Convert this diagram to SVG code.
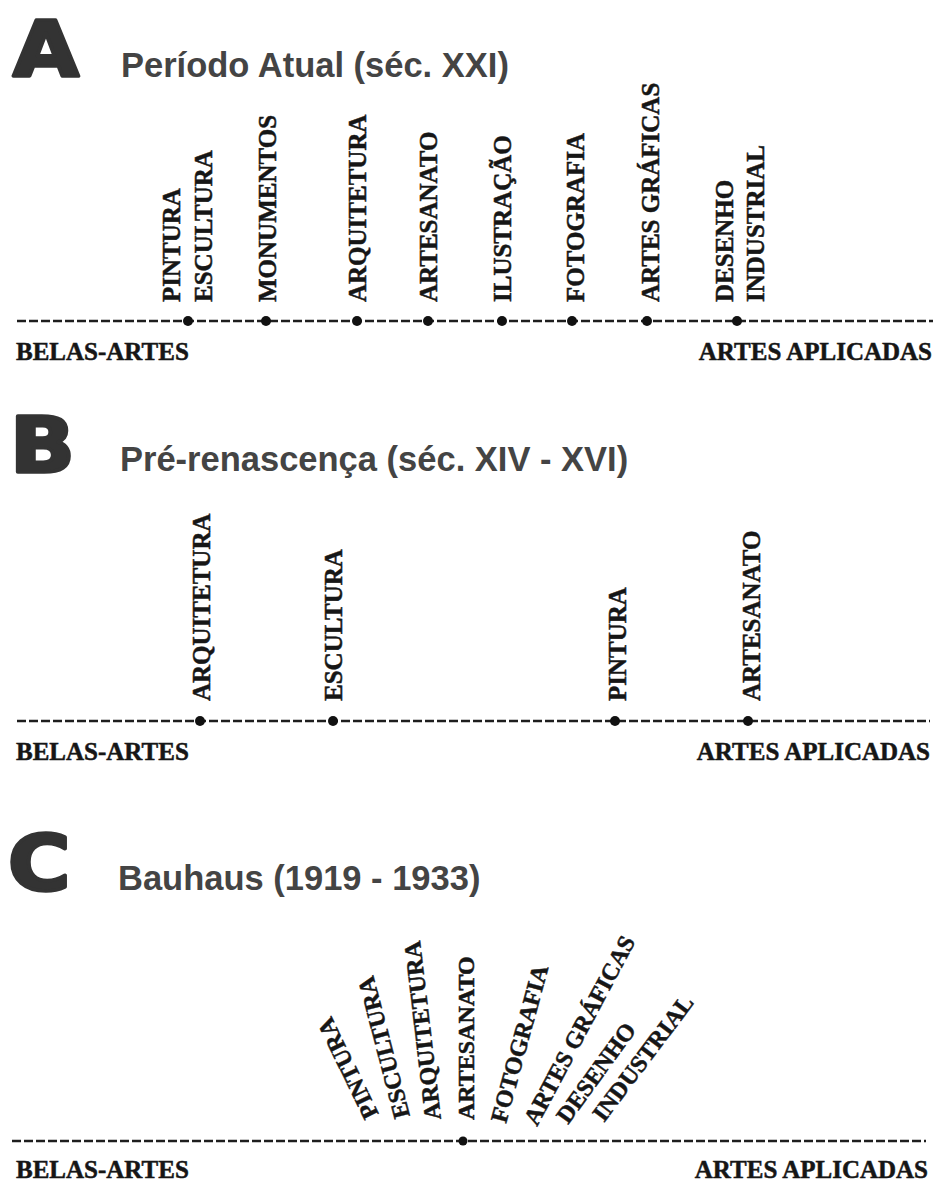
<svg xmlns="http://www.w3.org/2000/svg" width="935" height="1184" viewBox="0 0 935 1184">
<style>
.big{font-family:"DejaVu Sans",sans-serif;font-weight:bold;font-size:76px;fill:#333;stroke:#333;stroke-width:3.5;stroke-linejoin:round}
.title{font-family:"Liberation Sans",Arial,sans-serif;font-weight:bold;font-size:34.5px;fill:#444}
.lbl{font-family:"Liberation Serif","Times New Roman",serif;font-weight:bold;font-size:25px;fill:#161616;stroke:#161616;stroke-width:0.5}
.lblc{font-family:"Liberation Serif","Times New Roman",serif;font-weight:bold;font-size:24px;fill:#161616;stroke:#161616;stroke-width:0.5}
.end{text-anchor:end}
.axis{stroke:#1e1e1e;stroke-width:2.6;stroke-dasharray:9 3;fill:none}
.dot{fill:#111}
</style>
<rect width="935" height="1184" fill="#fff"/>

<!-- connectors: axes -->
<g id="connectors">
<line class="axis" x1="17" y1="321" x2="933" y2="321"/>
<line class="axis" x1="17" y1="721" x2="930" y2="721"/>
<line class="axis" x1="12" y1="1141" x2="926" y2="1141"/>
</g>

<!-- Section A -->
<g id="secA-header">
<text class="big" transform="translate(13,76) scale(1.12,1)">A</text>
<text class="title" x="121" y="77">Período Atual (séc. XXI)</text>
</g>
<g id="A-belas"><text class="lbl" x="16" y="360">BELAS-ARTES</text></g>
<g id="A-aplicadas"><text class="lbl end" x="932" y="360">ARTES APLICADAS</text></g>
<g id="A-pintura-escultura"><circle class="dot" cx="188" cy="321" r="5"/>
<text class="lbl" transform="translate(180,302) rotate(-90)">PINTURA</text>
<text class="lbl" transform="translate(212,302) rotate(-90)">ESCULTURA</text></g>
<g id="A-monumentos"><circle class="dot" cx="266" cy="321" r="5"/>
<text class="lbl" transform="translate(276,302) rotate(-90)">MONUMENTOS</text></g>
<g id="A-arquitetura"><circle class="dot" cx="357" cy="321" r="5"/>
<text class="lbl" transform="translate(366,302) rotate(-90)">ARQUITETURA</text></g>
<g id="A-artesanato"><circle class="dot" cx="428" cy="321" r="5"/>
<text class="lbl" transform="translate(437,302) rotate(-90)">ARTESANATO</text></g>
<g id="A-ilustracao"><circle class="dot" cx="502" cy="321" r="5"/>
<text class="lbl" transform="translate(511,302) rotate(-90)">ILUSTRAÇÃO</text></g>
<g id="A-fotografia"><circle class="dot" cx="572" cy="321" r="5"/>
<text class="lbl" transform="translate(584,302) rotate(-90)">FOTOGRAFIA</text></g>
<g id="A-artes-graficas"><circle class="dot" cx="647" cy="321" r="5"/>
<text class="lbl" transform="translate(659,302) rotate(-90)">ARTES GRÁFICAS</text></g>
<g id="A-desenho-industrial"><circle class="dot" cx="737" cy="321" r="5"/>
<text class="lbl" transform="translate(733,302) rotate(-90)">DESENHO</text>
<text class="lbl" transform="translate(764,302) rotate(-90)">INDUSTRIAL</text></g>

<!-- Section B -->
<g id="secB-header">
<text class="big" transform="translate(10,472) scale(1.12,1)">B</text>
<text class="title" x="120" y="471">Pré-renascença (séc. XIV - XVI)</text>
</g>
<g id="B-belas"><text class="lbl" x="16" y="760">BELAS-ARTES</text></g>
<g id="B-aplicadas"><text class="lbl end" x="930" y="760">ARTES APLICADAS</text></g>
<g id="B-arquitetura"><circle class="dot" cx="200" cy="721" r="5"/>
<text class="lbl" transform="translate(210,701) rotate(-90)">ARQUITETURA</text></g>
<g id="B-escultura"><circle class="dot" cx="333" cy="721" r="5"/>
<text class="lbl" transform="translate(342,701) rotate(-90)">ESCULTURA</text></g>
<g id="B-pintura"><circle class="dot" cx="615" cy="721" r="5"/>
<text class="lbl" transform="translate(626,701) rotate(-90)">PINTURA</text></g>
<g id="B-artesanato"><circle class="dot" cx="748" cy="721" r="5"/>
<text class="lbl" transform="translate(760,701) rotate(-90)">ARTESANATO</text></g>

<!-- Section C -->
<g id="secC-header">
<text class="big" transform="translate(8,890) scale(1.12,1)">C</text>
<text class="title" x="118" y="890">Bauhaus (1919 - 1933)</text>
</g>
<g id="C-belas"><text class="lbl" x="16" y="1178">BELAS-ARTES</text></g>
<g id="C-aplicadas"><text class="lbl end" x="928" y="1178">ARTES APLICADAS</text></g>
<g id="C-hub"><circle class="dot" cx="463" cy="1141" r="4.5"/></g>
<g id="C-pintura"><text class="lblc" transform="translate(379,1114) rotate(-116)">PINTURA</text></g>
<g id="C-escultura"><text class="lblc" transform="translate(410,1116) rotate(-104.6)">ESCULTURA</text></g>
<g id="C-arquitetura"><text class="lblc" transform="translate(441,1119) rotate(-96.7)">ARQUITETURA</text></g>
<g id="C-artesanato"><text class="lblc" transform="translate(474,1120) rotate(-90)">ARTESANATO</text></g>
<g id="C-fotografia"><text class="lblc" transform="translate(506,1124) rotate(-74.8)">FOTOGRAFIA</text></g>
<g id="C-artes-graficas"><text class="lblc" transform="translate(537,1127) rotate(-62)">ARTES GRÁFICAS</text></g>
<g id="C-desenho-industrial">
<text class="lblc" transform="translate(568,1125) rotate(-54)">DESENHO</text>
<text class="lblc" transform="translate(604,1123) rotate(-53)">INDUSTRIAL</text></g>
</svg>
